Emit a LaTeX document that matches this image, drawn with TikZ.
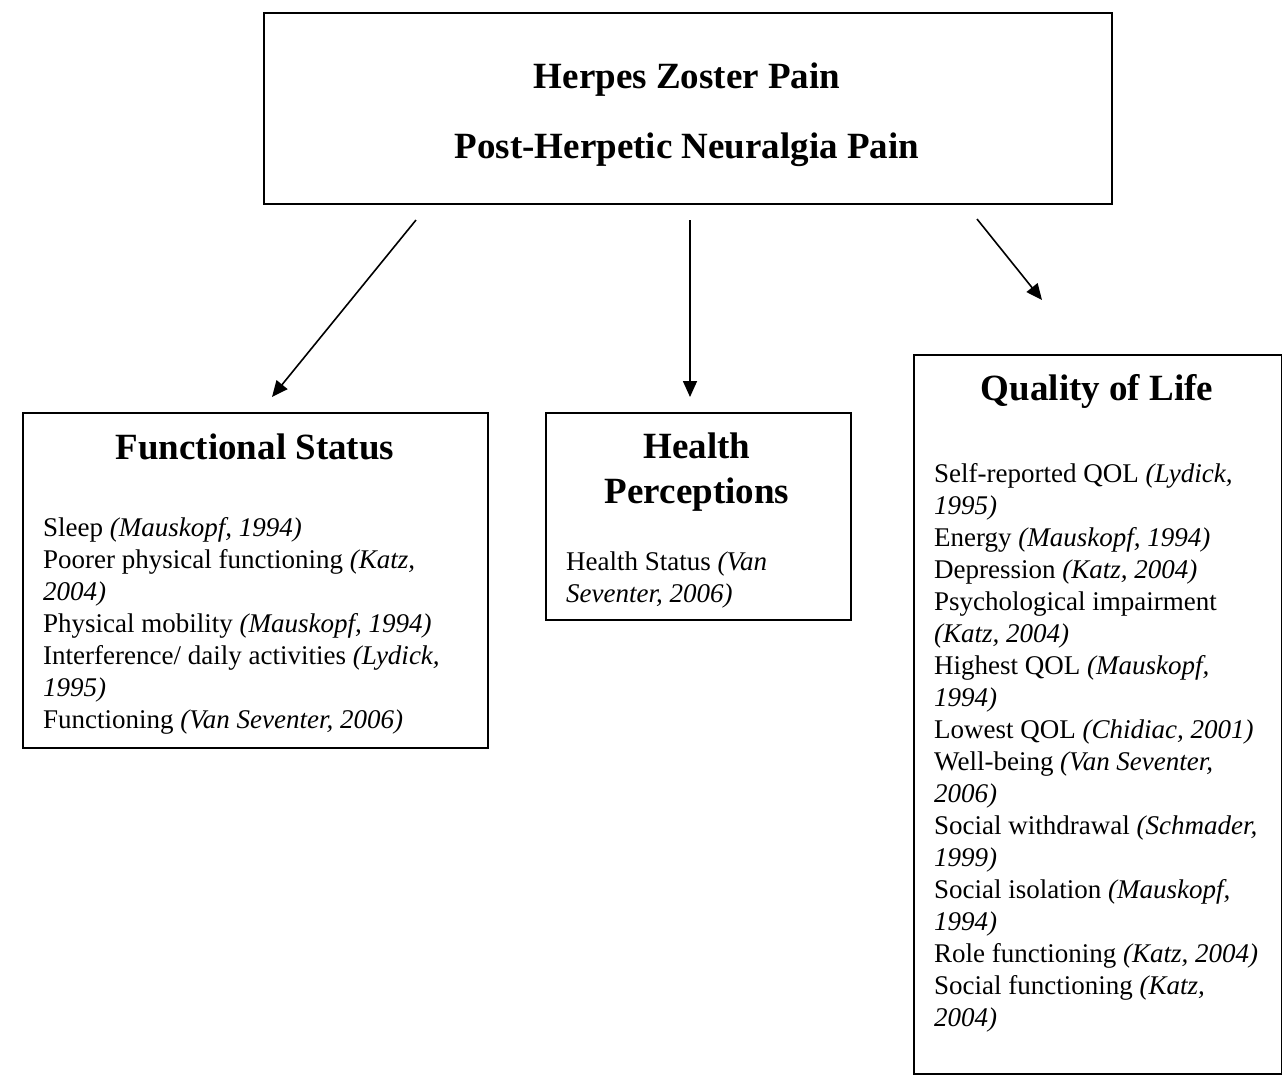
\documentclass[tikz,border=0pt]{standalone}
\usepackage{fontspec}
\setmainfont{Liberation Serif}
\usetikzlibrary{arrows.meta}
\begin{document}
\begin{tikzpicture}[x=1pt,y=-1pt,
  box/.style={draw, line width=2pt, inner sep=0, anchor=north west},
  ttl/.style={font=\fontsize{37}{40}\selectfont\bfseries, anchor=base, inner sep=0},
  txt/.style={font=\fontsize{27}{32}\selectfont, anchor=base west, inner sep=0},
  arr/.style={line width=1.6pt, -{Triangle[length=16pt,width=14pt]}}]
\useasboundingbox (0,0) rectangle (1282,1080);
\fill[white] (0,0) rectangle (1282,1080);
% boxes
\node[box, minimum width=848pt, minimum height=191pt] (top) at (263,12) {};
\node[box, minimum width=465pt, minimum height=335pt] (fs) at (22,412) {};
\node[box, minimum width=305pt, minimum height=207pt] (hp) at (545,412) {};
\node[box, minimum width=368pt, minimum height=719pt] (qol) at (913,354) {};
% titles
\node[ttl] (t1) at (687,88) {Herpes Zoster Pain};
\node[ttl] (t2) at (687,158) {Post-Herpetic Neuralgia Pain};
\node[ttl] (fst) at (255,459) {Functional Status};
\node[ttl] (hpt1) at (697,458) {Health};
\node[ttl] (hpt2) at (697,503) {Perceptions};
\node[ttl] (qolt) at (1097,400) {Quality of Life};
% functional status lines
\foreach \t [count=\i] in {
  {Sleep \textit{(Mauskopf, 1994)}},
  {Poorer physical functioning \textit{(Katz,}},
  {\textit{2004)}},
  {Physical mobility \textit{(Mauskopf, 1994)}},
  {Interference/ daily activities \textit{(Lydick,}},
  {\textit{1995)}},
  {Functioning \textit{(Van Seventer, 2006)}}}
  \node[txt, name=fs\i] at (43,{536+32*(\i-1)}) {\t};
% health perceptions lines
\node[txt] (hp1) at (566,570) {Health Status \textit{(Van}};
\node[txt] (hp2) at (566,602) {\textit{Seventer, 2006)}};
% quality of life lines
\foreach \t [count=\i] in {
  {Self-reported QOL \textit{(Lydick,}},
  {\textit{1995)}},
  {Energy \textit{(Mauskopf, 1994)}},
  {Depression \textit{(Katz, 2004)}},
  {Psychological impairment},
  {\textit{(Katz, 2004)}},
  {Highest QOL \textit{(Mauskopf,}},
  {\textit{1994)}},
  {Lowest QOL \textit{(Chidiac, 2001)}},
  {Well-being \textit{(Van Seventer,}},
  {\textit{2006)}},
  {Social withdrawal \textit{(Schmader,}},
  {\textit{1999)}},
  {Social isolation \textit{(Mauskopf,}},
  {\textit{1994)}},
  {Role functioning \textit{(Katz, 2004)}},
  {Social functioning \textit{(Katz,}},
  {\textit{2004)}}}
  \node[txt, name=q\i] at (934,{482+32*(\i-1)}) {\t};
% arrows
\coordinate (a1s) at (416,220);
\coordinate (a1e) at (272,397);
\coordinate (a2s) at (690,220);
\coordinate (a2e) at (690,397);
\coordinate (a3s) at (977,219);
\coordinate (a3e) at (1042,300);
\draw[arr] (a1s) -- (a1e);
\draw[arr] (a2s) -- (a2e);
\draw[arr] (a3s) -- (a3e);
\end{tikzpicture}
\end{document}
